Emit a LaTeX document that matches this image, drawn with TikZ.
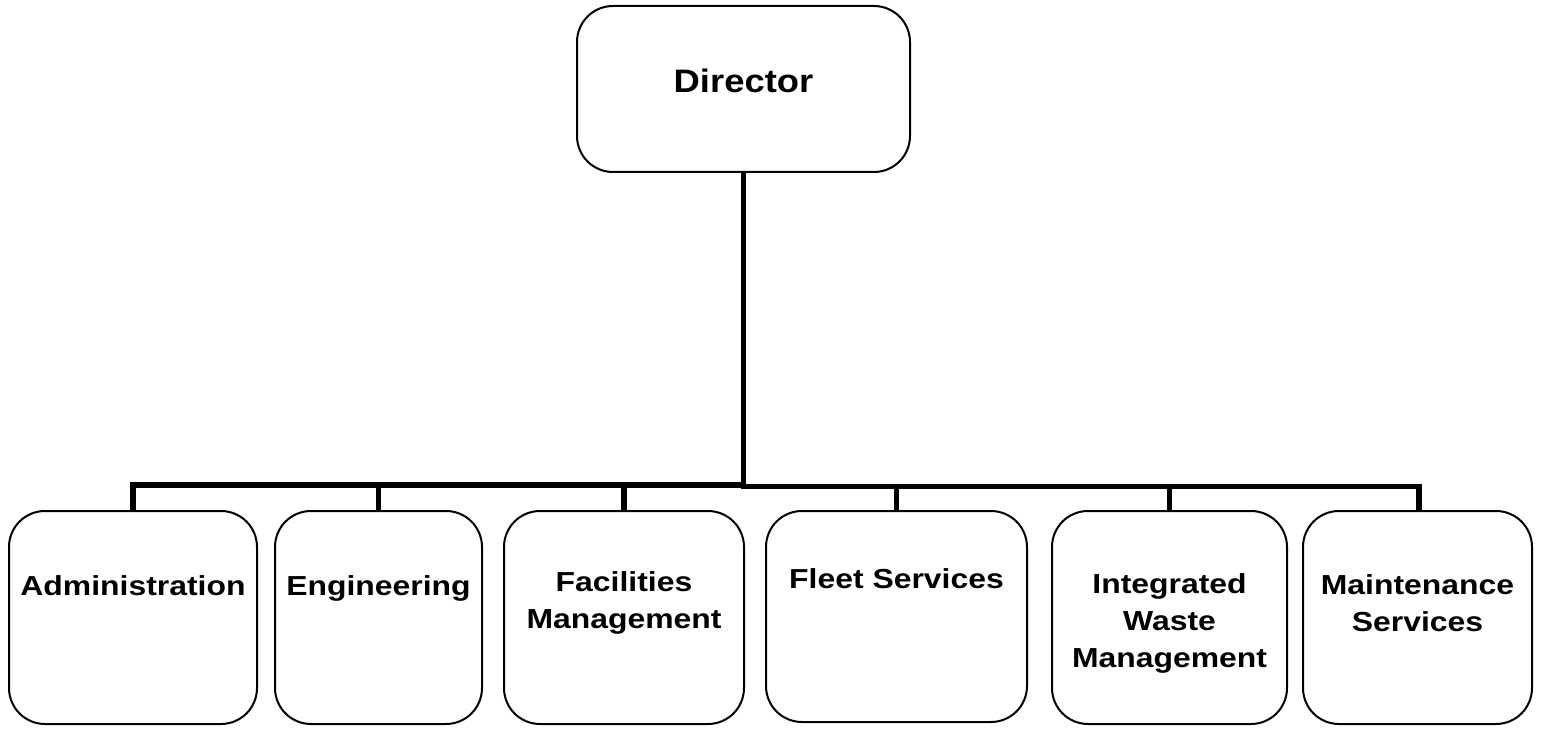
\documentclass[tikz,border=0pt]{standalone}
\usepackage{fontspec}
\newfontfamily\lowfont[FakeStretch=1.16]{Liberation Sans}
\newfontfamily\topfont[FakeStretch=1.12]{Liberation Sans}
\begin{document}
\begin{tikzpicture}[x=1pt,y=1pt,
  box/.style={draw=black, line width=2pt, rounded corners=36pt, fill=white, inner sep=0pt},
  lowtxt/.style={font=\lowfont\bfseries\fontsize{27.5}{37}\selectfont, align=center, anchor=base, inner sep=0pt},
  toptxt/.style={font=\topfont\bfseries\fontsize{32.5}{38}\selectfont, anchor=base, inner sep=0pt},
  conn/.style={draw=black, line width=5.5pt}]
\useasboundingbox (0,0) rectangle (1543,-730);
% boxes
\node[box, minimum width=333pt, minimum height=166pt] (dir) at (743.5,-89) {};
\node[box, minimum width=248pt, minimum height=213pt] (adm) at (133,-617.5) {};
\node[box, minimum width=207pt, minimum height=213pt] (eng) at (378.5,-617.5) {};
\node[box, minimum width=240pt, minimum height=213pt] (fac) at (624,-617.5) {};
\node[box, minimum width=261pt, minimum height=211pt] (flt) at (896.5,-616.5) {};
\node[box, minimum width=235pt, minimum height=213pt] (iwm) at (1169.5,-617.5) {};
\node[box, minimum width=229pt, minimum height=213pt] (mnt) at (1417.5,-617.5) {};
% texts (base = baseline of last line)
\node[toptxt] (dirT) at (743.5,-93) {Director};
\node[lowtxt] (admT) at (133,-595) {Administration};
\node[lowtxt] (engT) at (378.5,-595) {Engineering};
\node[lowtxt] (facT) at (624,-628) {Facilities\\Management};
\node[lowtxt] (fltT) at (896.5,-588) {Fleet Services};
\node[lowtxt] (iwmT) at (1169.5,-667) {Integrated\\Waste\\Management};
\node[lowtxt] (mntT) at (1417.5,-631) {Maintenance\\Services};
% connectors
\coordinate (hubL) at (743.5,-485);
\coordinate (hubR) at (743.5,-486.5);
\draw[conn] (dir.south) -- ([yshift=-2.5pt]hubR);
\draw[conn] (hubL) -| (adm.north);
\draw[conn] (hubL) -| (eng.north);
\draw[conn] (hubL) -| (fac.north);
\draw[conn] (hubR) -| (flt.north);
\draw[conn] (hubR) -| (iwm.north);
\draw[conn] (hubR) -| ([xshift=1.5pt]mnt.north);
\end{tikzpicture}
\end{document}
